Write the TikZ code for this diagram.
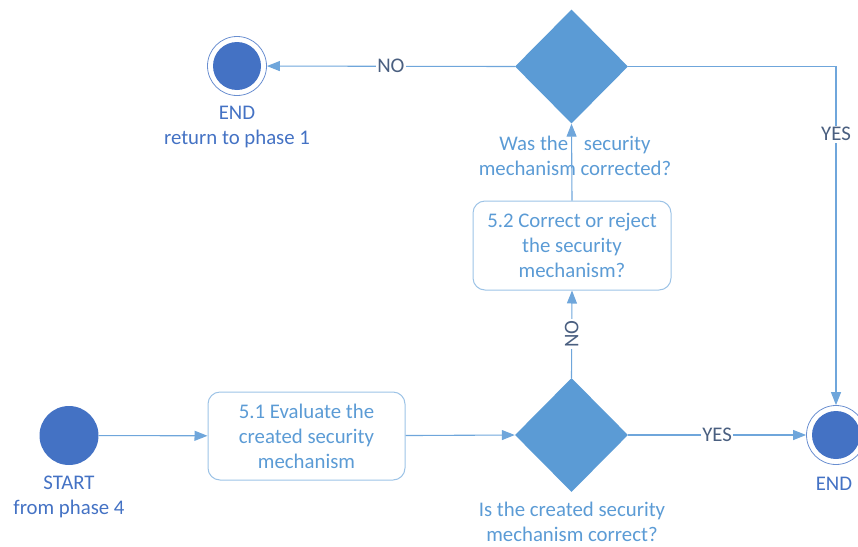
\documentclass[tikz,border=0pt]{standalone}
\usepackage{fontspec}
\setmainfont{Carlito}
\usetikzlibrary{shapes.geometric,arrows.meta}
\definecolor{circ}{HTML}{4472C4}
\definecolor{dia}{HTML}{5B9BD5}
\definecolor{conn}{HTML}{6FA6DB}
\definecolor{boxline}{HTML}{9DC3E6}
\definecolor{boxtext}{HTML}{5B9BD5}
\definecolor{lbl}{HTML}{4472C4}
\definecolor{yn}{HTML}{4A5F80}
\tikzset{
  every node/.style={font=\fontsize{20.8}{25}\selectfont},
  startdot/.style={circle, fill=circ, minimum size=59pt, inner sep=0pt},
  enddot/.style={circle, draw=circ!80, line width=0.8pt, minimum size=59pt, inner sep=0pt,
    path picture={\fill[circ] (path picture bounding box.center) circle (24pt);}},
  actbox/.style={rectangle, rounded corners=12pt, draw=boxline, line width=1pt,
    text=boxtext, align=center, minimum width=197pt, minimum height=88pt, inner sep=2pt},
  decision/.style={diamond, fill=dia, minimum width=113pt, minimum height=114pt, inner sep=0pt},
  qtext/.style={text=boxtext, align=center},
  endtext/.style={text=lbl, align=center},
  flow/.style={draw=conn, line width=1.1pt, -{Triangle[length=13pt,width=10pt]}},
  yesno/.style={text=yn, fill=white, inner sep=1.5pt}
}
\begin{document}
\begin{tikzpicture}[x=1pt,y=-1pt]
\useasboundingbox (0,0) rectangle (858,546);

% nodes
\node[startdot] (start) at (69,435.5) {};
\node[endtext] (startlbl) at (69,497) {START\\from phase 4};
\node[actbox] (eval) at (306.5,436) {5.1 Evaluate the\\created security\\mechanism};
\node[decision] (dcorrect) at (571.5,435) {};
\node[qtext] (qcorrect) at (572,522) {Is the created security\\mechanism correct?};
\node[enddot] (endok) at (836,435) {};
\node[endtext] (endoklbl) at (834,484) {END};
\node[actbox, minimum width=198pt, minimum height=89pt] (fix) at (572,245.5) {5.2 Correct or reject\\the security\\mechanism?};
\node[decision] (dfixed) at (571.5,66.5) {};
\node[qtext] (qfixed) at (575,156) {Was the\hspace{11pt} security\\mechanism corrected?};
\node[enddot] (endback) at (237,66) {};
\node[endtext] (endbacklbl) at (237,127.5) {END\\return to phase 1};

% connectors
\draw[flow] (start) -- (eval);
\draw[flow] (eval) -- (dcorrect.west);
\draw[flow] (dcorrect.east) -- node[yesno] {YES} (endok);
\draw[flow] (dcorrect.north) -- node[yesno, rotate=90] {NO} (fix.south);
\draw[flow] (fix.north) -- (dfixed.south);
\draw[flow] (dfixed.west) -- node[yesno] {NO} (endback);
\draw[flow] (dfixed.east) -| node[yesno, pos=0.6] {YES} (endok.north);
\end{tikzpicture}
\end{document}
